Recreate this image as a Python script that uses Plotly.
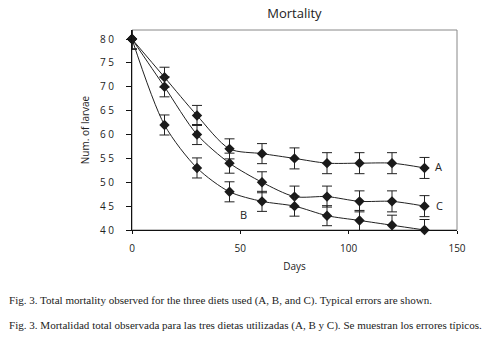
import plotly.graph_objects as go

days = [0, 15, 30, 45, 60, 75, 90, 105, 120, 135]
diet_a = [80, 72, 64, 57, 56, 55, 54, 54, 54, 53]
diet_c = [80, 70, 60, 54, 50, 47, 47, 46, 46, 45]
diet_b = [80, 62, 53, 48, 46, 45, 43, 42, 41, 40]
err_a = [2.1, 2.1, 2.1, 2.1, 2.1, 2.2, 2.2, 2.2, 2.2, 2.2]
err_c = [2.1, 2.1, 2.1, 2.1, 2.2, 2.2, 2.2, 2.2, 2.2, 2.2]
err_b = [2.1, 2.1, 2.1, 2.1, 2.1, 2.1, 2.1, 2.1, 2.1, 2.2]
y_ticks = [40, 45, 50, 55, 60, 65, 70, 75, 80]
y_tick_labels = ["4 0", "4 5", "5 0", "5 5", "6 0", "6 5", "7 0", "7 5", "8 0"]
x_ticks = [0, 50, 100, 150]
series_labels = [("A", 141.5, 53.2), ("C", 142.0, 45.2), ("B", 51.5, 43.2)]

fig = go.Figure()
for vals, errs in [(diet_a, err_a), (diet_c, err_c), (diet_b, err_b)]:
    fig.add_trace(go.Scatter(
        x=days, y=vals, mode="lines+markers",
        line=dict(color="#222222", width=1, shape="spline", smoothing=0.8),
        marker=dict(symbol="diamond", size=8, color="#1a1a1a"),
        error_y=dict(type="data", array=errs, visible=True, color="#222222",
                     thickness=1, width=5),
        cliponaxis=False, showlegend=False,
    ))

for txt, xv, yv in series_labels:
    fig.add_annotation(x=xv, y=yv, text=txt, showarrow=False,
                       font=dict(family="Open Sans, Liberation Sans", size=11, color="#222"))

fig.add_shape(type="rect", xref="paper", yref="paper", x0=0, y0=0, x1=1, y1=1,
              line=dict(color="#888888", width=1), layer="below")

cap_font = dict(family="Liberation Serif, Times New Roman, serif", size=11.05, color="#222")
fig.add_annotation(xref="paper", yref="paper", x=-0.385, y=-0.354, xanchor="left", yanchor="middle",
                   text="Fig. 3. Total mortality observed for the three diets used (A, B, and C). Typical errors are shown.",
                   showarrow=False, font=cap_font)
fig.add_annotation(xref="paper", yref="paper", x=-0.385, y=-0.475, xanchor="left", yanchor="middle",
                   text="Fig. 3. Mortalidad total observada para las tres dietas utilizadas (A, B y C). Se muestran los errores típicos.",
                   showarrow=False, font=cap_font)

fig.update_layout(
    width=494, height=337,
    margin=dict(l=132, r=37, t=30, b=107),
    paper_bgcolor="white", plot_bgcolor="white",
    title=dict(text="Mortality", x=0.596, xanchor="center", y=0.961, yanchor="middle",
               font=dict(family="Open Sans, Liberation Sans", size=13, color="#222")),
    font=dict(family="Open Sans, Liberation Sans", size=10, color="#222"),
    xaxis=dict(range=[0, 150], tickvals=x_ticks, showgrid=False, zeroline=False,
               showline=True, linecolor="#111", linewidth=1,
               ticks="outside", ticklen=3, tickcolor="#111", ticklabelstandoff=6,
               title=dict(text="Days", standoff=8, font=dict(size=10))),
    yaxis=dict(range=[40, 81.9], tickvals=y_ticks, ticktext=y_tick_labels,
               showgrid=False, zeroline=False,
               showline=True, linecolor="#111", linewidth=1,
               ticks="outside", ticklen=5, tickcolor="#111", ticklabelstandoff=10,
               title=dict(text="Num. of larvae", standoff=8, font=dict(size=10))),
)

fig.write_html("out.html", config={"displayModeBar": False},
               post_script="document.body.style.margin='0';document.body.style.overflow='hidden';")
